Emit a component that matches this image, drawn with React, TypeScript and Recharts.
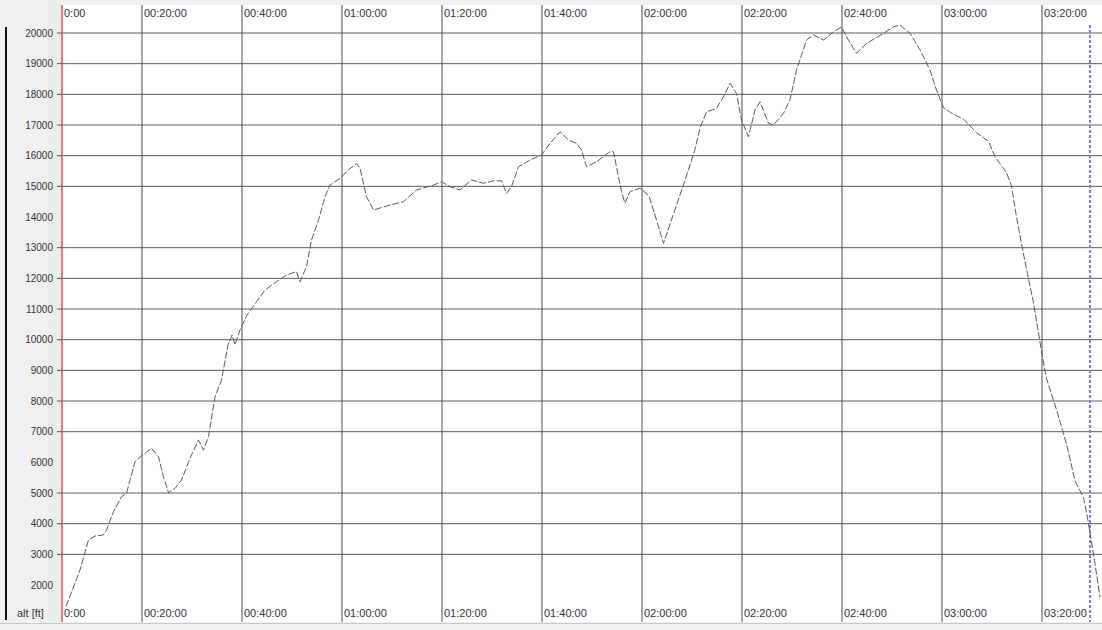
import React from 'react';
import { LineChart, Line, XAxis, YAxis, ReferenceLine, CartesianGrid } from 'recharts';

const TIMES = [
  4.8, 7.6, 9.3, 10.6, 12.2, 12.9, 14.3, 15.9, 16.9, 18.6, 19.9, 21.9, 23.3, 24.3, 25.3, 26.6, 27.9, 29.6,
  31.3, 32.3, 33.3, 34.6, 35.9, 37.2, 38.0, 38.6, 39.6, 41.0, 44.6, 46.9, 48.9, 50.9, 51.6, 52.9, 53.9,
  55.3, 56.6, 57.6, 59.6, 60.9, 62.9, 63.6, 64.9, 66.3, 69.6, 72.3, 74.9, 78.3, 79.9, 81.6, 83.6, 85.9,
  88.3, 90.3, 91.9, 92.9, 93.9, 95.3, 97.6, 99.9, 101.6, 103.6, 105.3, 106.9, 107.9, 108.9, 110.9, 113.6,
  114.3, 115.3, 115.9, 116.6, 117.6, 119.6, 121.4, 122.9, 124.3, 126.3, 128.5, 130.5, 131.6, 132.9, 134.9,
  136.3, 137.6, 138.9, 139.9, 141.3, 142.6, 143.6, 145.3, 146.3, 148.3, 149.6, 150.9, 152.9, 154.3, 156.3,
  158.3, 159.9, 160.9, 162.9, 164.9, 168.3, 170.3, 171.6, 173.6, 175.6, 177.6, 178.9, 180.3, 182.3, 184.3,
  186.9, 189.3, 190.6, 192.9, 193.9, 194.9, 196.6, 198.3, 199.9, 200.9, 202.9, 204.9, 206.6, 208.3, 209.0,
  210.5, 211.6,
];

const ALT = [
  1300, 2490, 3470, 3600, 3630, 3790, 4390, 4880, 4990, 6020, 6210, 6460, 6180, 5530, 5010, 5150, 5420, 6130,
  6730, 6400, 6840, 8140, 8680, 9830, 10150, 9830, 10320, 10800, 11620, 11890, 12110, 12220, 11890, 12380, 13250,
  13900, 14660, 15040, 15260, 15480, 15750, 15590, 14660, 14230, 14390, 14500, 14880, 15040, 15150, 14990, 14880, 15210,
  15100, 15180, 15180, 14770, 14990, 15640, 15860, 16020, 16400, 16780, 16510, 16400, 16190, 15640, 15800, 16130,
  16130, 15310, 14830, 14450, 14830, 14940, 14690, 13900, 13140, 14100, 15150, 16150, 16900, 17430, 17540,
  17920, 18360, 18030, 17160, 16620, 17490, 17760, 17060, 17000, 17380, 17820, 18790, 19770, 19940, 19770,
  20040, 20200, 19880, 19340, 19660, 19990, 20200, 20260, 19990, 19450, 18790, 18140, 17560, 17350, 17190,
  16750, 16470, 15960, 15450, 15010, 14000, 12540, 11200, 9630, 8730, 7720, 6600, 5400, 4850, 4300,
  2800, 1600,
];

const X_TICKS = [4, 20, 40, 60, 80, 100, 120, 140, 160, 180, 200];
const X_LABELS = ['0:00', '00:20:00', '00:40:00', '01:00:00', '01:20:00', '01:40:00', '02:00:00', '02:20:00', '02:40:00', '03:00:00', '03:20:00'];
const GRID_X = [20, 40, 60, 80, 100, 120, 140, 160, 180, 200];
const Y_TICKS = [2000, 3000, 4000, 5000, 6000, 7000, 8000, 9000, 10000, 11000, 12000, 13000, 14000, 15000, 16000, 17000, 18000, 19000, 20000];
const GRID_Y = [3000, 4000, 5000, 7000, 8000, 9000, 10000, 11000, 12000, 13000, 15000, 16000, 17000, 18000, 19000, 20000];
const START_T = 4;
const CURSOR_T = 209.6;
const X_DOMAIN = [4, 212];
const Y_DOMAIN = [795, 20913];

const data = TIMES.map((t, i) => ({ t, alt: ALT[i] }));

const FONT = '"Liberation Sans", Arial, sans-serif';

const labelFor = (v: number) => {
  const i = X_TICKS.indexOf(v);
  return i >= 0 ? X_LABELS[i] : '';
};

const BottomTick = (props: any) => {
  const { x, y, payload } = props;
  return (
    <text x={x + 2} y={y - 5} fontSize={11} fontFamily={FONT} fill="#333" textAnchor="start">
      {labelFor(payload.value)}
    </text>
  );
};

const TopTick = (props: any) => {
  const { x, y, payload } = props;
  return (
    <text x={x + 2} y={y + 12} fontSize={11} fontFamily={FONT} fill="#333" textAnchor="start">
      {labelFor(payload.value)}
    </text>
  );
};

const YTick = (props: any) => {
  const { x, y, payload } = props;
  const gridded = GRID_Y.indexOf(payload.value) >= 0;
  return (
    <g>
      {gridded && <line x1={x - 5} x2={x} y1={y} y2={y} stroke="#555" strokeWidth={1} />}
      <text x={x - 9} y={y} dy="0.35em" fontSize={10} fontFamily={FONT} fill="#333" textAnchor="end">
        {String(payload.value)}
      </text>
    </g>
  );
};

const YLabel = (props: any) => {
  const vb = props.viewBox || { x: 0, y: 0, width: 62, height: 622 };
  return (
    <text x={vb.x + 17} y={vb.y + vb.height - 5} fontSize={11} fontFamily={FONT} fill="#333">
      alt [ft]
    </text>
  );
};

export default function App() {
  return (
    <div style={{ position: 'absolute', left: 0, top: 0, width: 1102, height: 630, background: '#f0f0f0', overflow: 'hidden' }}>
      <div style={{ position: 'absolute', left: 48, top: 0, width: 13, height: 622, background: '#e9f0ea' }} />
      <div style={{ position: 'absolute', left: 5, top: 27, width: 2, height: 593, background: '#111' }} />
      <div style={{ position: 'absolute', left: 0, top: 623, width: 1102, height: 1, background: '#c8c8c8' }} />
      <LineChart
        width={1102}
        height={630}
        data={data}
        margin={{ top: 0, right: 0, bottom: 0, left: 0 }}
        style={{ position: 'absolute', left: 0, top: 0 }}
      >
        <CartesianGrid xAxisId="b" yAxisId="y" horizontal={false} vertical={false} fill="#ffffff" stroke="none" />
        <XAxis
          xAxisId="b"
          dataKey="t"
          type="number"
          orientation="bottom"
          domain={X_DOMAIN}
          ticks={X_TICKS}
          interval={0}
          height={8}
          tickSize={0}
          tickMargin={0}
          axisLine={false}
          tickLine={false}
          tick={<BottomTick />}
          allowDataOverflow
        />
        <XAxis
          xAxisId="t"
          dataKey="t"
          type="number"
          orientation="top"
          domain={X_DOMAIN}
          ticks={X_TICKS}
          interval={0}
          height={5}
          tickSize={0}
          tickMargin={0}
          axisLine={false}
          tickLine={false}
          tick={<TopTick />}
          allowDataOverflow
        />
        <YAxis
          yAxisId="y"
          type="number"
          domain={Y_DOMAIN}
          ticks={Y_TICKS}
          interval={0}
          width={62}
          tickSize={0}
          tickMargin={0}
          axisLine={false}
          tickLine={false}
          tick={<YTick />}
          label={<YLabel />}
          allowDataOverflow
        />
        {GRID_Y.map((v) => (
          <ReferenceLine key={'gy' + v} xAxisId="b" yAxisId="y" y={v} stroke="#5a5a5a" strokeWidth={1} />
        ))}
        {GRID_X.map((v) => (
          <ReferenceLine key={'gx' + v} xAxisId="b" yAxisId="y" x={v} stroke="#4a4a4a" strokeWidth={1} />
        ))}
        <ReferenceLine xAxisId="b" yAxisId="y" x={START_T} stroke="#e0505c" strokeWidth={1.5} />
        <ReferenceLine
          xAxisId="b"
          yAxisId="y"
          segment={[{ x: CURSOR_T, y: 20260 }, { x: CURSOR_T, y: Y_DOMAIN[0] }]}
          stroke="#7b7bee"
          strokeWidth={2}
          strokeDasharray="3 2"
        />
        <Line
          xAxisId="b"
          yAxisId="y"
          type="linear"
          dataKey="alt"
          stroke="#5a5a5a"
          strokeWidth={1}
          strokeDasharray="7 2"
          dot={false}
          isAnimationActive={false}
        />
      </LineChart>
    </div>
  );
}
